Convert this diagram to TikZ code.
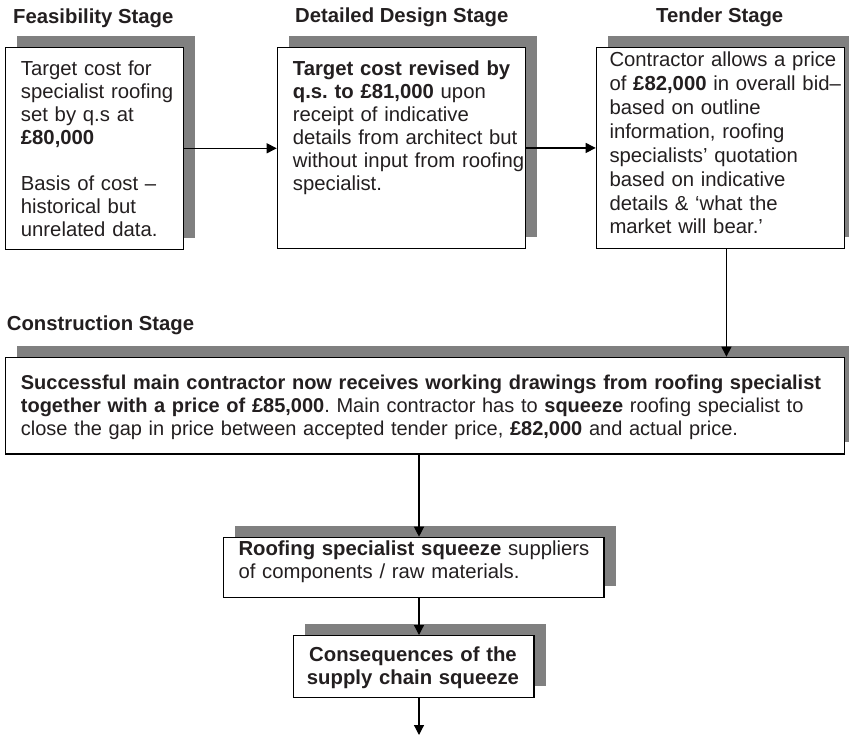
\documentclass[tikz,border=0pt]{standalone}
\usepackage{fontspec}
\setmainfont{Liberation Sans}
\usetikzlibrary{arrows.meta,shadows}
\definecolor{ink}{HTML}{231F20}
\definecolor{shade}{HTML}{808080}
\frenchspacing

\begin{document}
\begin{tikzpicture}[x=1pt,y=-1pt,
  font=\fontsize{20.3}{23}\selectfont,
  box/.style={draw=black, line width=1.2pt, fill=white, inner sep=0pt,
    anchor=north west,
    drop shadow={shadow xshift=11.7pt, shadow yshift=11.7pt,
      fill=shade, draw=none, opacity=1}},
  txt/.style={anchor=base west, inner sep=0pt, text=ink, align=left,
    text width=#1},
  txt/.default=250pt,
  head/.style={anchor=base west, inner sep=0pt, text=ink,
    font=\fontsize{20.3}{23}\selectfont\bfseries},
  link/.style={line width=1.2pt, -{Triangle[length=10pt,width=10pt]}}]

\useasboundingbox (0,0) rectangle (849,737);

% stage headings
\node[head] (h1) at (13,23) {Feasibility Stage};
\node[head] (h2) at (295,22) {Detailed Design Stage};
\node[head] (h3) at (656,22) {Tender Stage};
\node[head] (h4) at (6.7,330) {Construction Stage};

% boxes with their shadows
\node[box, minimum width=178pt, minimum height=202pt] (b1) at (5,46.7) {};
\node[box, minimum width=248.3pt, minimum height=201.3pt] (b2) at (276.7,46.7) {};
\node[box, minimum width=248.3pt, minimum height=201.3pt] (b3) at (595.7,46.7) {};
\node[box, minimum width=838.5pt, minimum height=96.6pt] (b4) at (5,356.7) {};
\node[box, minimum width=380.6pt, minimum height=60pt] (b5) at (222.7,536.7) {};
\node[box, minimum width=240.6pt, minimum height=61.7pt] (b6) at (292.7,635) {};

% box texts
\node[txt] (t1) at (20.7,75) {Target cost for\\
  specialist roofing\\
  set by q.s at\\
  \textbf{£80,000}\\[23pt]
  Basis of cost –\\
  historical but\\
  unrelated data.};
\node[txt] (t2) at (292.7,75) {\textbf{Target cost revised by}\\
  \textbf{q.s. to £81,000} upon\\
  receipt of indicative\\
  details from architect but\\
  without input from roofing\\
  specialist.};
\node[txt, text depth=0pt] (t3) at (609.3,66) {\setlength{\baselineskip}{24pt}Contractor allows a price\\
  of \textbf{£82,000} in overall bid–\\
  based on outline\\
  information, roofing\\
  specialists’ quotation\\
  based on indicative\\
  details \& ‘what the\\
  market will bear.’};
\node[txt=830pt, font=\fontsize{20}{23}\selectfont] (t4) at (20.7,389) {\textbf{Successful main contractor now receives working drawings from roofing specialist}\\
  \textbf{together with a price of £85,000}. Main contractor has to \textbf{squeeze} roofing specialist to\\
  close the gap in price between accepted tender price, \textbf{£82,000} and actual price.};
\node[txt=370pt] (t5) at (238.3,555) {\setlength{\baselineskip}{22pt}\textbf{Roofing specialist squeeze} suppliers\\
  of components / raw materials.};
\node[anchor=base, inner sep=0pt, text=ink, align=center, text width=230pt] (t6) at (413,661.5)
  {\setlength{\baselineskip}{22pt}\textbf{Consequences of the}\\ \textbf{supply chain squeeze}};

% connectors
\coordinate (spine) at (419,0);
\coordinate (tail) at (419,735);
\draw[link] (b1.east) -- (b1.east -| b2.west);
\draw[link] (b2.east) -- (b2.east -| b3.west);
\draw[link] ([xshift=6pt]b3.south) -- ([xshift=6pt]b3.south |- b4.north);
\draw[link] (spine |- b4.south) -- (spine |- b5.north);
\draw[link] (spine |- b5.south) -- (spine |- b6.north);
\draw[link] (spine |- b6.south) -- (tail);
\end{tikzpicture}
\end{document}
